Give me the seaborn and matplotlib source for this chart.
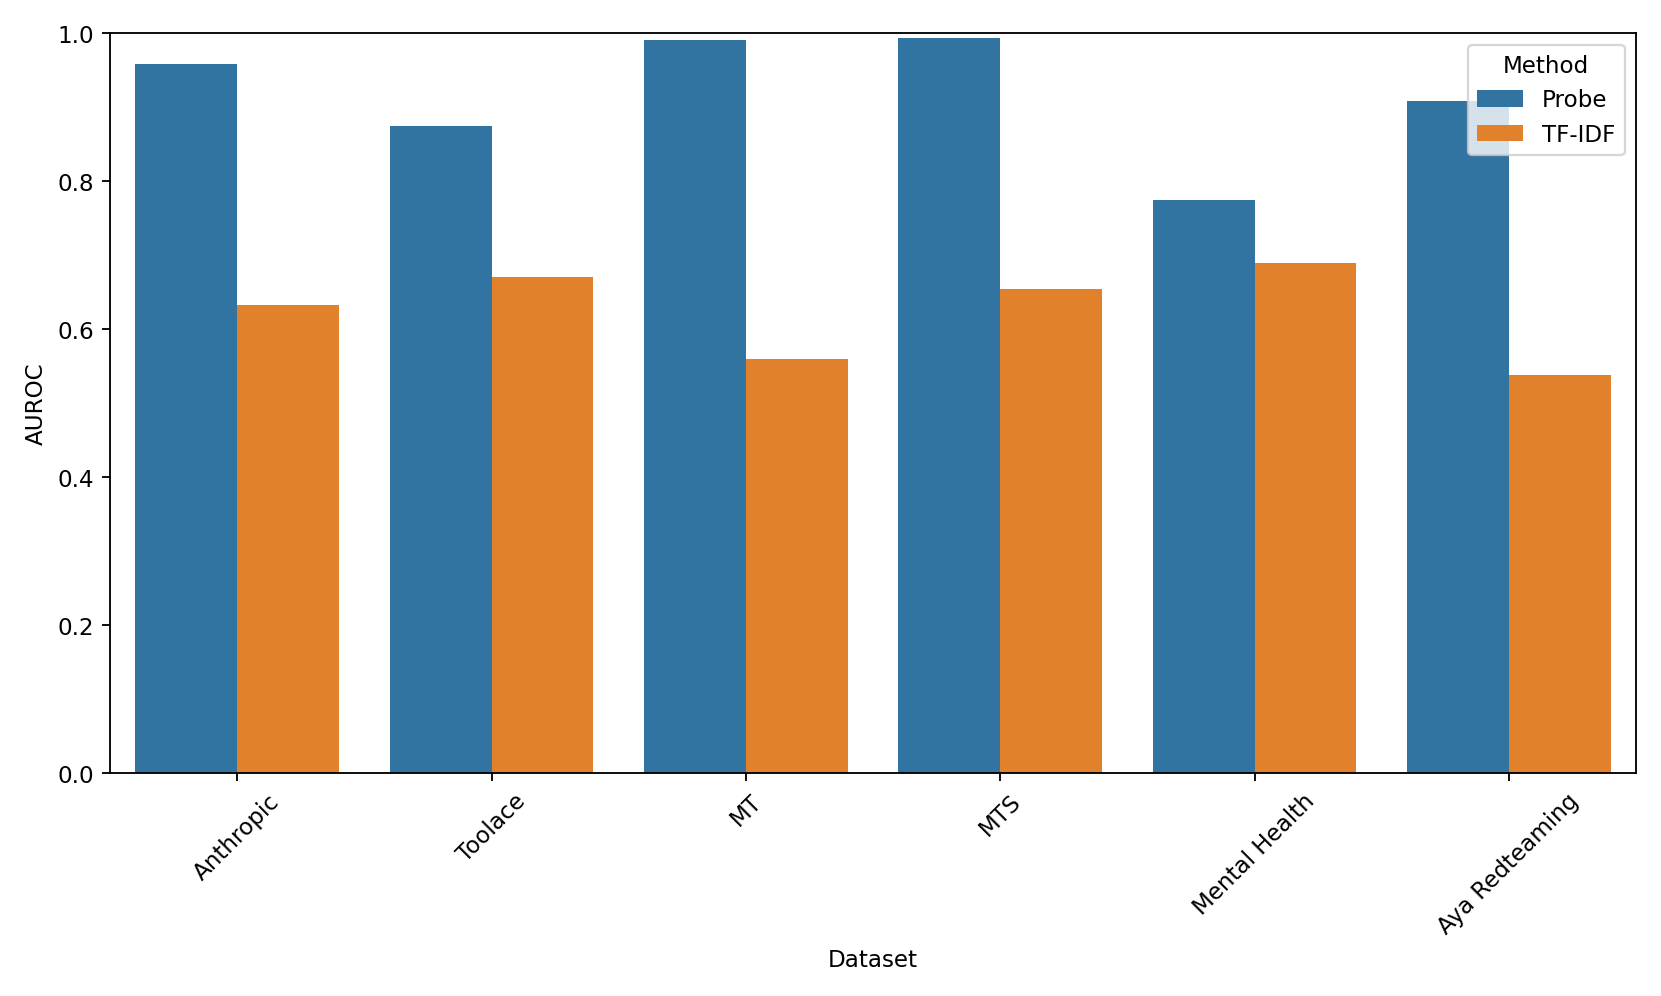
import matplotlib
matplotlib.use("Agg")
import matplotlib.pyplot as plt
import pandas as pd
import seaborn as sns

DATASETS = ["Anthropic", "Toolace", "MT", "MTS", "Mental Health", "Aya Redteaming"]
PROBE    = [0.958, 0.875, 0.991, 0.994, 0.775, 0.908]
TFIDF    = [0.633, 0.670, 0.560, 0.654, 0.690, 0.538]
METHODS  = ["Probe", "TF-IDF"]

df = pd.DataFrame({
    "Dataset": DATASETS * 2,
    "Method":  [METHODS[0]] * len(DATASETS) + [METHODS[1]] * len(DATASETS),
    "AUROC":   PROBE + TFIDF,
})

fig, ax = plt.subplots(figsize=(10, 6), dpi=166.1)
sns.barplot(data=df, x="Dataset", y="AUROC", hue="Method", ax=ax)
ax.set_ylim(0, 1.0)
ax.legend(title="Method", loc="upper right")
plt.xticks(rotation=45)
plt.tight_layout()
plt.savefig("out.png", dpi=166.1)
